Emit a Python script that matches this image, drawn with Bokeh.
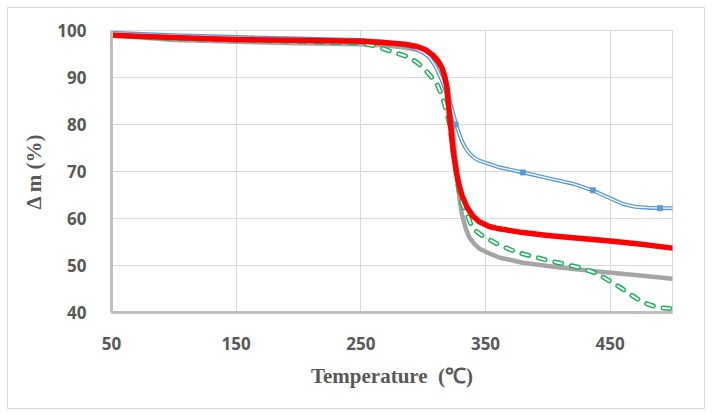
from bokeh.plotting import figure
from bokeh.models import Range1d, FixedTicker
from bokeh.embed import file_html
from bokeh.resources import INLINE

# ---- data ----
blue_x = [50, 100, 150, 200, 250, 270, 290, 300, 305, 310, 315, 319, 323, 327, 331, 334, 337, 341, 345, 351, 361, 380, 400, 420, 436, 450, 460, 470, 480, 490, 500]
blue_y = [99.5, 99.0, 98.6, 98.3, 98.0, 97.6, 96.6, 95.3, 94.3, 92.3, 89.4, 86.5, 83.4, 79.5, 76.5, 75.0, 73.9, 72.9, 72.3, 71.8, 70.9, 69.8, 68.6, 67.4, 66.0, 64.3, 63.1, 62.5, 62.3, 62.2, 62.2]
blue_mx = [326, 380, 436, 490]
blue_my = [80.0, 69.8, 66.0, 62.2]

red_x = [50, 100, 150, 200, 250, 270, 285, 295, 302, 308, 312, 315, 317, 319, 321, 322.5, 324, 326, 328, 331, 335, 340, 345, 353, 361, 380, 400, 420, 450, 475, 500]
red_y = [99.0, 98.5, 98.1, 97.9, 97.7, 97.4, 97.1, 96.6, 95.9, 94.7, 93.4, 92.1, 90.5, 87.9, 82.3, 78.5, 74.5, 71.0, 68.0, 65.0, 62.5, 60.5, 59.3, 58.3, 57.8, 57.0, 56.4, 55.9, 55.2, 54.5, 53.7]

gray_x = [50, 100, 150, 200, 250, 270, 285, 295, 300, 306, 311, 314, 317, 319, 321, 323, 325, 327, 329, 331, 334, 337, 341, 345, 351, 361, 380, 400, 415, 440, 470, 500]
gray_y = [99.0, 98.0, 97.6, 97.3, 97.1, 96.8, 96.4, 95.9, 95.6, 95.0, 94.2, 92.8, 90.9, 88.8, 85.7, 81.5, 75.5, 69.5, 64.5, 61.0, 58.0, 56.0, 54.6, 53.6, 52.8, 51.7, 50.6, 49.9, 49.4, 48.7, 48.0, 47.2]

green_x = [50, 100, 150, 200, 250, 260, 267, 275, 282, 289, 295, 300, 305, 311, 314, 317, 319, 321, 323, 325, 327, 329, 331, 333, 335, 339, 343, 348, 353, 360, 375, 390, 401, 415, 428, 440, 449, 460, 471, 480, 489, 500]
green_y = [99.0, 98.3, 98.0, 97.7, 97.3, 96.8, 96.2, 95.5, 94.9, 94.3, 93.2, 92.1, 90.6, 88.7, 86.8, 84.5, 82.5, 80.2, 76.5, 72.5, 68.5, 65.5, 63.5, 62.0, 61.0, 58.3, 57.2, 56.2, 55.5, 54.5, 52.8, 51.8, 51.0, 50.2, 49.4, 48.2, 46.8, 45.0, 43.0, 41.8, 41.0, 40.8]

x_ticks = [50, 150, 250, 350, 450]
y_ticks = [40, 50, 60, 70, 80, 90, 100]

BLUE = "#5b9bd5"
RED = "#ff0000"
GRAY = "#a5a5a5"
GREEN = "#1fb25a"
TXT = "#595959"

p = figure(width=698, height=402, output_backend="svg", toolbar_location=None,
           x_range=Range1d(50, 500), y_range=Range1d(40, 100),
           min_border_left=103, min_border_right=34, min_border_top=22, min_border_bottom=98)
p.styles = {"border": "1px solid #d9d9d9", "box-sizing": "border-box", "margin": "7px 0 0 7px"}
p.background_fill_color = "white"
p.border_fill_color = "white"
p.outline_line_color = "#d9d9d9"
p.outline_line_width = 1

p.xaxis.ticker = FixedTicker(ticks=x_ticks)
p.yaxis.ticker = FixedTicker(ticks=y_ticks)
p.xgrid.ticker = FixedTicker(ticks=[150, 250, 350, 450])
p.ygrid.ticker = FixedTicker(ticks=y_ticks)
p.grid.grid_line_color = "#d9d9d9"
p.grid.grid_line_width = 1

for ax in (p.xaxis, p.yaxis):
    ax.axis_line_color = "#bfbfbf"
    ax.axis_line_width = 3
    ax.major_tick_line_color = None
    ax.minor_tick_line_color = None
    ax.major_label_text_font = "Open Sans"
    ax.major_label_text_font_style = "bold"
    ax.major_label_text_font_size = "17px"
    ax.major_label_text_color = TXT
    ax.axis_label_text_font = "Liberation Serif"
    ax.axis_label_text_font_style = "bold"
    ax.axis_label_text_font_size = "21px"
    ax.axis_label_text_color = TXT

p.xaxis.major_label_standoff = 18
p.yaxis.major_label_standoff = 19
p.xaxis.axis_label = "Temperature\u2002(℃)"
p.yaxis.axis_label = "Δ m (%)"
p.xaxis.axis_label_standoff = 11
p.yaxis.axis_label_standoff = 8

# gray
p.line(gray_x, gray_y, line_color=GRAY, line_width=4.5, line_join="round", line_cap="round")
# blue double line
p.line(blue_x, blue_y, line_color=BLUE, line_width=4, line_join="round", line_cap="round")
p.line(blue_x, blue_y, line_color="white", line_width=1.3, line_join="round", line_cap="round")
p.scatter(blue_mx, blue_my, marker="square", size=5, fill_color=BLUE, line_color=BLUE)
# green dashed double line
p.line(green_x, green_y, line_color=GREEN, line_width=5, line_dash="7 10", line_join="round", line_cap="round")
p.line(green_x, green_y, line_color="white", line_width=2, line_dash="7 10", line_join="round", line_cap="round")
# red
p.line(red_x, red_y, line_color=RED, line_width=5.5, line_join="round", line_cap="round")

open("out.html", "w").write(file_html(p, INLINE))
